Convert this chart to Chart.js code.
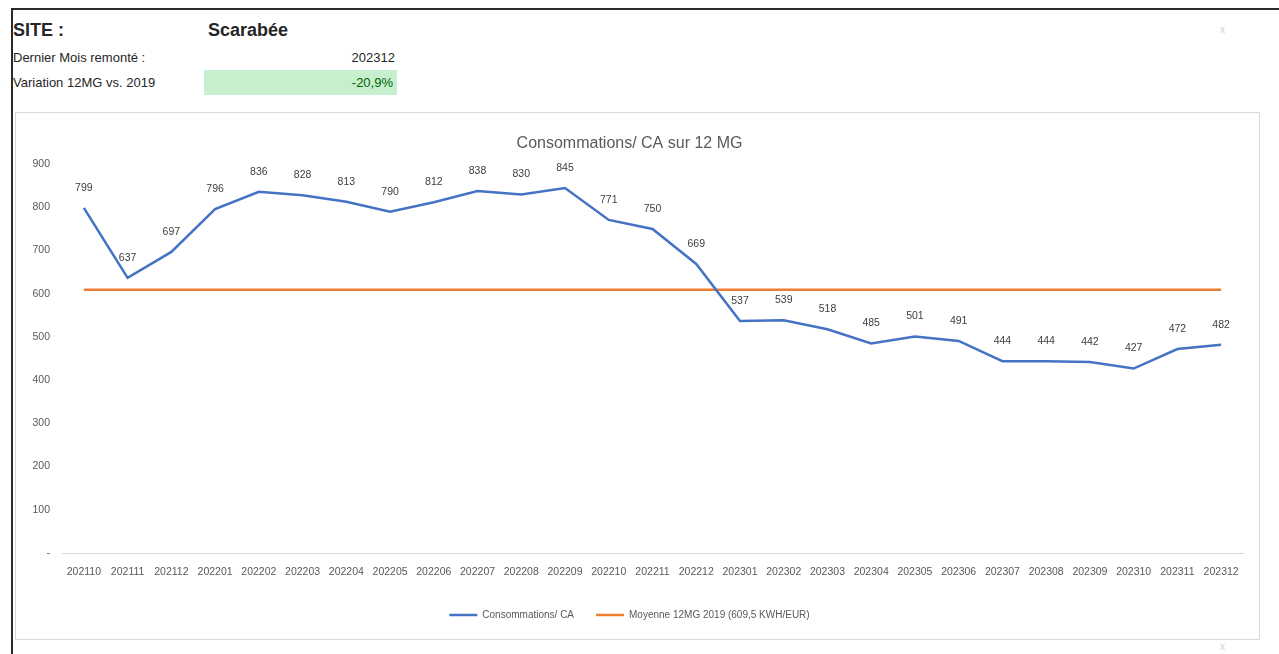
<!DOCTYPE html>
<html>
<head>
<meta charset="utf-8">
<script src="https://cdn.jsdelivr.net/npm/chart.js@4.4.0/dist/chart.umd.min.js"></script>
<style>
    body { margin: 0; background: #ffffff; font-family: "Liberation Sans", Arial, sans-serif; }
    #page { position: relative; width: 1279px; height: 654px; overflow: hidden; }
    #frame { position: absolute; left: 11px; top: 8px; width: 1280px; height: 660px; border-top: 2px solid #2b2b2b; border-left: 2px solid #2b2b2b; }
    .txt { position: absolute; color: #262626; white-space: nowrap; }
    .big { font-size: 18px; font-weight: bold; top: 20px; }
    .small { font-size: 13px; }
    #green { position: absolute; left: 204px; top: 70px; width: 193px; height: 25px; background: #c6efce; }
    .mark { position: absolute; color: #d0d0d0; font-size: 10px; }
    #box { position: absolute; left: 15px; top: 112px; width: 1245px; height: 528px; border: 1px solid #d9d9d9; box-sizing: border-box; background: #fff; }
</style>
</head>
<body>
<div id="page">
    <div id="frame"></div>
    <div class="txt big" style="left:13px;">SITE :</div>
    <div class="txt big" style="left:208px;">Scarabée</div>
    <div class="txt small" style="left:13px; top:50px;">Dernier Mois remonté :</div>
    <div class="txt small" style="right:884px; top:50px;">202312</div>
    <div id="green"></div>
    <div class="txt small" style="left:13px; top:75px;">Variation 12MG vs. 2019</div>
    <div class="txt small" style="right:886px; top:75px; color:#006100;">-20,9%</div>
    <div class="mark" style="left:1220px; top:24px;">x</div>
    <div class="mark" style="left:1220px; top:641px;">x</div>
    <div id="box">
        <canvas id="chart" width="1243" height="526"></canvas>
    </div>
</div>

<script>
// Chart data
const months = ['202110', '202111', '202112', '202201', '202202', '202203', '202204', '202205', '202206',
    '202207', '202208', '202209', '202210', '202211', '202212', '202301', '202302', '202303', '202304',
    '202305', '202306', '202307', '202308', '202309', '202310', '202311', '202312'];
const consoCA = [799, 637, 697, 796, 836, 828, 813, 790, 812, 838, 830, 845, 771, 750, 669,
    537, 539, 518, 485, 501, 491, 444, 444, 442, 427, 472, 482];
const moyenne2019 = 609.5;
const yTicks = [0, 100, 200, 300, 400, 500, 600, 700, 800, 900];

const FONT = '"Liberation Sans", Arial, sans-serif';

// Value labels above the blue line
const pointLabels = {
    id: 'pointLabels',
    afterDatasetsDraw(chart) {
        const ctx = chart.ctx;
        const meta = chart.getDatasetMeta(0);
        ctx.save();
        ctx.font = '10.5px ' + FONT;
        ctx.fillStyle = '#404040';
        ctx.textAlign = 'center';
        ctx.textBaseline = 'middle';
        meta.data.forEach((pt, i) => {
            ctx.fillText(consoCA[i], pt.x, pt.y - 20);
        });
        ctx.restore();
    }
};

const ctx = document.getElementById('chart');
new Chart(ctx, {
    type: 'line',
    data: {
        labels: months,
        datasets: [{
            label: 'Consommations/ CA',
            data: consoCA,
            borderColor: '#4472c4',
            backgroundColor: '#4472c4',
            borderWidth: 2.5,
            pointRadius: 0,
            tension: 0
        }, {
            label: 'Moyenne 12MG 2019 (609,5 KWH/EUR)',
            data: months.map(() => moyenne2019),
            borderColor: '#ed7d31',
            backgroundColor: '#ed7d31',
            borderWidth: 2.5,
            pointRadius: 0,
            tension: 0
        }]
    },
    options: {
        responsive: false,
        animation: false,
        layout: { padding: { left: 0, right: 16, top: 0, bottom: 9 } },
        plugins: {
            title: {
                display: true,
                text: 'Consommations/ CA sur 12 MG',
                color: '#595959',
                font: { family: FONT, size: 16, weight: 'normal' },
                padding: { top: 21, bottom: 11 }
            },
            legend: {
                position: 'bottom',
                labels: {
                    usePointStyle: true,
                    pointStyle: 'line',
                    pointStyleWidth: 28,
                    color: '#595959',
                    font: { family: FONT, size: 10 },
                    padding: 22
                }
            },
            tooltip: { enabled: false }
        },
        scales: {
            x: {
                offset: true,
                grid: { display: false, drawTicks: false },
                border: { display: true, color: '#d9d9d9', width: 1 },
                ticks: {
                    color: '#595959',
                    font: { family: FONT, size: 10.5 },
                    padding: 13,
                    maxRotation: 0,
                    autoSkip: false
                },
                afterFit(scale) { scale.height = 35; }
            },
            y: {
                min: 0,
                max: 900,
                grid: { display: false, drawTicks: false },
                border: { display: false },
                afterBuildTicks(scale) { scale.ticks = yTicks.map(v => ({ value: v })); },
                ticks: {
                    color: '#595959',
                    font: { family: FONT, size: 10.5 },
                    padding: 12,
                    callback: v => v === 0 ? '-' : v
                },
                afterFit(scale) { scale.width = 46; }
            }
        }
    },
    plugins: [pointLabels]
});
</script>
</body>
</html>
